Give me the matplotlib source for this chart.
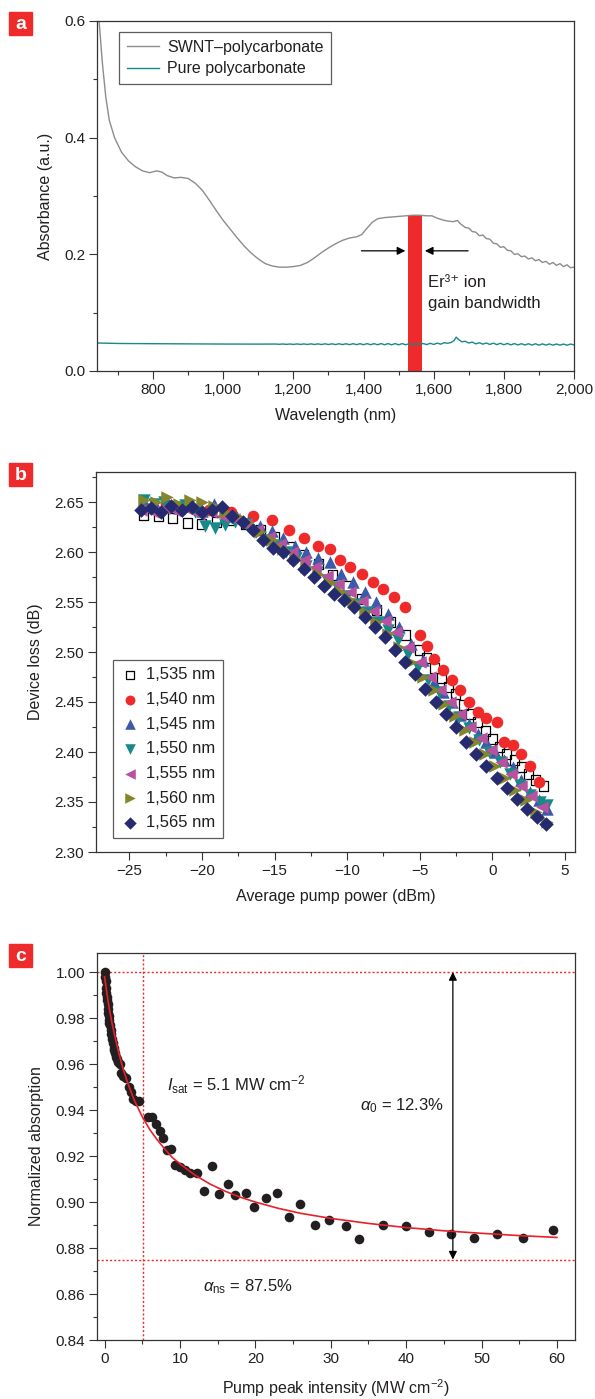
import matplotlib
matplotlib.use('Agg')
import matplotlib.pyplot as plt
from matplotlib.patches import Rectangle
from matplotlib.ticker import MultipleLocator

plt.rcParams['font.family'] = ['Liberation Sans Narrow', 'Liberation Sans', 'DejaVu Sans']
plt.rcParams['mathtext.fontset'] = 'custom'
plt.rcParams['mathtext.rm'] = 'Liberation Sans'
plt.rcParams['mathtext.it'] = 'Liberation Sans:italic'
plt.rcParams['mathtext.bf'] = 'Liberation Sans:bold'

TXT = '#231f20'
RED = '#ee2a2a'

# ---------------- panel a data ----------------
swnt_wl = [640, 646, 655, 665, 675, 690, 710, 730, 750, 770, 790, 810, 825, 840, 860, 880, 900,
           920, 940, 960, 980, 1000, 1020, 1040, 1060, 1080, 1100, 1120, 1140, 1160, 1180, 1200,
           1220, 1240, 1260, 1280, 1300, 1320, 1340, 1360, 1380, 1395, 1410, 1425, 1440, 1460,
           1480, 1500, 1520, 1540, 1560, 1580, 1595, 1610, 1625, 1640, 1655, 1668, 1675, 1690,
           1700, 1710, 1720, 1730, 1740, 1750, 1760, 1770, 1780, 1790, 1800, 1810, 1820, 1830,
           1840, 1850, 1860, 1870, 1880, 1890, 1900, 1910, 1920, 1930, 1940, 1950, 1960, 1970,
           1980, 1990, 2000]
swnt_abs = [0.62, 0.60, 0.53, 0.47, 0.43, 0.40, 0.375, 0.36, 0.35, 0.343, 0.340, 0.343, 0.341,
            0.335, 0.331, 0.332, 0.330, 0.322, 0.310, 0.293, 0.275, 0.258, 0.243, 0.228, 0.214,
            0.202, 0.192, 0.184, 0.180, 0.178, 0.178, 0.179, 0.181, 0.186, 0.194, 0.203, 0.211,
            0.218, 0.224, 0.228, 0.230, 0.234, 0.245, 0.255, 0.261, 0.263, 0.264, 0.265, 0.266,
            0.267, 0.267, 0.266, 0.266, 0.262, 0.259, 0.257, 0.256, 0.258, 0.253, 0.246,
            0.245, 0.239, 0.238, 0.232, 0.233, 0.227, 0.226, 0.219, 0.218, 0.212, 0.213, 0.207,
            0.206, 0.200, 0.201, 0.196, 0.197, 0.192, 0.194, 0.189, 0.191, 0.186, 0.188, 0.183,
            0.186, 0.181, 0.184, 0.179, 0.182, 0.177, 0.178]

pure_wl = [640, 700, 800, 900, 1000, 1100, 1150, 1160, 1170, 1180, 1190, 1200, 1210, 1220, 1230,
           1240, 1250, 1260, 1270, 1280, 1290, 1300, 1310, 1320, 1330, 1340, 1350, 1360, 1370,
           1380, 1390, 1400, 1410, 1420, 1430, 1440, 1450, 1460, 1470, 1480, 1490, 1500, 1510,
           1520, 1530, 1540, 1550, 1560, 1570, 1580, 1590, 1600, 1610, 1620, 1630, 1640, 1650,
           1658, 1664, 1670, 1680, 1690, 1700, 1710, 1720, 1730, 1740, 1750, 1760, 1770, 1780,
           1790, 1800, 1810, 1820, 1830, 1840, 1850, 1860, 1870, 1880, 1890, 1900, 1910, 1920,
           1930, 1940, 1950, 1960, 1970, 1980, 1990, 2000]
pure_abs = [0.0480, 0.0472, 0.0468, 0.0465, 0.0462, 0.0461, 0.0462, 0.0458, 0.0463, 0.0457,
            0.0463, 0.0456, 0.0464, 0.0456, 0.0464, 0.0455, 0.0465, 0.0455, 0.0465, 0.0454,
            0.0466, 0.0454, 0.0466, 0.0453, 0.0467, 0.0453, 0.0467, 0.0452, 0.0468, 0.0452,
            0.0468, 0.0451, 0.0469, 0.0451, 0.0469, 0.0450, 0.0470, 0.0450, 0.0470, 0.0449,
            0.0470, 0.0449, 0.0470, 0.0449, 0.0470, 0.0449, 0.0471, 0.0450, 0.0472, 0.0452,
            0.0475, 0.0455, 0.0478, 0.0460, 0.0485, 0.0475, 0.0490, 0.0520, 0.0580, 0.0545,
            0.0500, 0.0510, 0.0480, 0.0495, 0.0465, 0.0485, 0.0460, 0.0480, 0.0455, 0.0478,
            0.0452, 0.0475, 0.0450, 0.0472, 0.0448, 0.0470, 0.0447, 0.0468, 0.0446, 0.0467,
            0.0445, 0.0466, 0.0444, 0.0465, 0.0444, 0.0464, 0.0443, 0.0463, 0.0443, 0.0462,
            0.0442, 0.0462, 0.0448]

er_band_center = 1547
er_band_width = 40
er_band_top = 0.268

a_xticks = [800, 1000, 1200, 1400, 1600, 1800, 2000]
a_xticklabels = ['800', '1,000', '1,200', '1,400', '1,600', '1,800', '2,000']
a_yticks = [0.0, 0.2, 0.4, 0.6]
a_yticklabels = ['0.0', '0.2', '0.4', '0.6']

# ---------------- panel b data ----------------
b_labels = ['1,535 nm', '1,540 nm', '1,545 nm', '1,550 nm', '1,555 nm', '1,560 nm', '1,565 nm']

x1535 = [-24.0, -23.0, -22.0, -21.0, -20.0, -19.0, -18.0, -17.0, -16.0, -15.0,
         -14.0, -13.0, -12.0, -11.0, -10.0, -9.0, -8.0, -7.0, -6.0, -5.0,
         -4.5, -4.0, -3.5, -3.0, -2.5, -2.0, -1.5, -1.0, -0.5, 0.0,
         0.5, 1.0, 1.5, 2.0, 2.5, 3.0, 3.5]
y1535 = [2.637, 2.636, 2.634, 2.629, 2.628, 2.630, 2.632, 2.628, 2.622, 2.615,
         2.605, 2.597, 2.588, 2.577, 2.566, 2.553, 2.542, 2.530, 2.517, 2.502,
         2.494, 2.484, 2.474, 2.465, 2.458, 2.447, 2.438, 2.430, 2.421, 2.413,
         2.405, 2.398, 2.392, 2.385, 2.378, 2.372, 2.366]

x1540 = [-24.0, -22.5, -21.0, -19.5, -18.0, -16.5, -15.2, -14.0, -13.0, -12.0,
         -11.2, -10.5, -9.8, -9.0, -8.2, -7.5, -6.8, -6.0, -5.0, -4.5,
         -4.0, -3.4, -2.8, -2.2, -1.6, -1.0, -0.4, 0.3, 0.8, 1.4,
         2.0, 2.6, 3.2]
y1540 = [2.645, 2.648, 2.646, 2.642, 2.640, 2.636, 2.632, 2.622, 2.614, 2.606,
         2.603, 2.592, 2.585, 2.578, 2.570, 2.563, 2.555, 2.545, 2.517, 2.506,
         2.493, 2.482, 2.472, 2.462, 2.450, 2.440, 2.434, 2.430, 2.410, 2.407,
         2.398, 2.386, 2.370]

x1545 = [-24.0, -23.2, -22.4, -21.6, -20.8, -20.0, -19.2, -18.4, -17.6, -16.8,
         -16.0, -15.2, -14.4, -13.6, -12.8, -12.0, -11.2, -10.4, -9.6, -8.8,
         -8.0, -7.2, -6.4, -5.6, -4.8, -4.0, -3.4, -2.8, -2.2, -1.6,
         -1.0, -0.4, 0.2, 0.8, 1.4, 2.0, 2.6, 3.2, 3.8]
y1545 = [2.650, 2.646, 2.648, 2.644, 2.646, 2.641, 2.648, 2.636, 2.635, 2.630,
         2.626, 2.621, 2.614, 2.606, 2.600, 2.594, 2.590, 2.578, 2.570, 2.560,
         2.550, 2.538, 2.525, 2.508, 2.492, 2.470, 2.460, 2.450, 2.437, 2.428,
         2.418, 2.410, 2.400, 2.392, 2.385, 2.372, 2.360, 2.352, 2.343]

x1550 = [-24.0, -23.3, -22.6, -21.9, -21.2, -20.5, -19.8, -19.1, -18.4, -17.7,
         -17.0, -16.3, -15.6, -14.9, -14.2, -13.5, -12.8, -12.1, -11.4, -10.7,
         -10.0, -9.3, -8.6, -7.9, -7.2, -6.5, -5.8, -5.1, -4.4, -3.7,
         -3.0, -2.3, -1.6, -0.9, -0.2, 0.5, 1.2, 1.9, 2.6, 3.3, 3.8]
y1550 = [2.652, 2.648, 2.650, 2.645, 2.647, 2.640, 2.626, 2.624, 2.627, 2.630,
         2.628, 2.620, 2.612, 2.607, 2.600, 2.594, 2.586, 2.580, 2.572, 2.565,
         2.556, 2.548, 2.540, 2.530, 2.522, 2.512, 2.498, 2.485, 2.472, 2.460,
         2.446, 2.435, 2.424, 2.412, 2.400, 2.390, 2.378, 2.367, 2.357, 2.350, 2.347]

x1555 = [-24.2, -23.4, -22.6, -21.8, -21.0, -20.2, -19.4, -18.6, -17.8, -17.0,
         -16.2, -15.4, -14.6, -13.8, -13.0, -12.2, -11.4, -10.6, -9.8, -9.0,
         -8.2, -7.4, -6.6, -5.8, -5.0, -4.3, -3.6, -2.9, -2.2, -1.5,
         -0.8, -0.1, 0.6, 1.3, 2.0, 2.7, 3.4]
y1555 = [2.642, 2.640, 2.644, 2.641, 2.643, 2.638, 2.640, 2.636, 2.633, 2.628,
         2.622, 2.615, 2.608, 2.600, 2.592, 2.585, 2.576, 2.568, 2.560, 2.551,
         2.541, 2.531, 2.520, 2.505, 2.490, 2.475, 2.462, 2.450, 2.438, 2.425,
         2.414, 2.402, 2.390, 2.378, 2.366, 2.356, 2.345]

x1560 = [-24.0, -23.2, -22.4, -21.6, -20.8, -20.0, -19.2, -18.4, -17.6, -16.8,
         -16.0, -15.2, -14.4, -13.6, -12.8, -12.0, -11.2, -10.4, -9.6, -8.8,
         -8.0, -7.2, -6.4, -5.6, -4.8, -4.0, -3.3, -2.6, -1.9, -1.2,
         -0.5, 0.2, 0.9, 1.6, 2.3, 3.0, 3.8]
y1560 = [2.652, 2.650, 2.655, 2.648, 2.652, 2.650, 2.646, 2.640, 2.636, 2.630,
         2.620, 2.612, 2.603, 2.594, 2.585, 2.578, 2.569, 2.560, 2.551, 2.540,
         2.530, 2.518, 2.505, 2.490, 2.475, 2.462, 2.448, 2.436, 2.422, 2.410,
         2.398, 2.386, 2.374, 2.362, 2.352, 2.340, 2.330]

x1565 = [-24.2, -23.5, -22.8, -22.1, -21.4, -20.7, -20.0, -19.3, -18.6, -17.9,
         -17.2, -16.5, -15.8, -15.1, -14.4, -13.7, -13.0, -12.3, -11.6, -10.9,
         -10.2, -9.5, -8.8, -8.1, -7.4, -6.7, -6.0, -5.3, -4.6, -3.9,
         -3.2, -2.5, -1.8, -1.1, -0.4, 0.3, 1.0, 1.7, 2.4, 3.1, 3.7]
y1565 = [2.642, 2.644, 2.640, 2.646, 2.642, 2.645, 2.640, 2.642, 2.645, 2.636,
         2.630, 2.622, 2.612, 2.604, 2.600, 2.592, 2.583, 2.575, 2.566, 2.558,
         2.552, 2.545, 2.535, 2.525, 2.515, 2.502, 2.490, 2.478, 2.463, 2.450,
         2.438, 2.425, 2.410, 2.398, 2.386, 2.374, 2.364, 2.353, 2.343, 2.335, 2.328]

b_xticks = [-25, -20, -15, -10, -5, 0, 5]
b_yticks = [2.30, 2.35, 2.40, 2.45, 2.50, 2.55, 2.60, 2.65]

# ---------------- panel c data ----------------
c_int = [0.0, 0.1, 0.15, 0.2, 0.25, 0.3, 0.35, 0.4, 0.45, 0.5, 0.55, 0.6, 0.65, 0.7, 0.8,
         0.9, 1.0, 1.1, 1.2, 1.3, 1.4, 1.5, 1.6, 1.8, 2.0, 2.2, 2.5, 2.8, 3.2, 3.5, 3.8,
         4.2, 4.6, 5.8, 6.3, 6.8, 7.3, 7.8, 8.3, 8.8, 9.4, 10.0, 10.7, 11.4, 12.2, 13.2,
         14.2, 15.2, 16.4, 17.3, 18.7, 19.8, 21.4, 22.9, 24.4, 25.9, 27.9, 29.8, 32.0,
         33.8, 37.0, 40.0, 43.0, 46.0, 49.0, 52.0, 55.5, 59.5]
c_abs = [1.000, 0.998, 0.996, 0.993, 0.991, 0.989, 0.988, 0.986, 0.984, 0.982, 0.981, 0.979,
         0.978, 0.977, 0.975, 0.973, 0.971, 0.969, 0.967, 0.966, 0.965, 0.963, 0.962, 0.961,
         0.960, 0.956, 0.955, 0.954, 0.950, 0.948, 0.945, 0.944, 0.944, 0.937, 0.937, 0.934,
         0.931, 0.928, 0.9226, 0.923, 0.916, 0.9154, 0.914, 0.9127, 0.9125, 0.905, 0.9157,
         0.9033, 0.908, 0.903, 0.904, 0.898, 0.9016, 0.9038, 0.8933, 0.899, 0.890, 0.892,
         0.8897, 0.8838, 0.890, 0.8895, 0.887, 0.886, 0.8845, 0.886, 0.8845, 0.888]

fit_int = [0, 0.25, 0.5, 0.75, 1, 1.5, 2, 2.5, 3, 3.5, 4, 5, 6, 7, 8, 9, 10, 12, 14, 16, 18,
           20, 23, 26, 30, 35, 40, 45, 50, 55, 60]
fit_abs = [0.998, 0.9922, 0.9868, 0.982, 0.9777, 0.9701, 0.9634, 0.9575, 0.9525, 0.948,
           0.9439, 0.9371, 0.9315, 0.927, 0.923, 0.9193, 0.9166, 0.9117, 0.9078, 0.9047,
           0.9021, 0.900, 0.8973, 0.8951, 0.8929, 0.8907, 0.8889, 0.8875, 0.8864, 0.8854,
           0.8846]

i_sat = 5.1
alpha_top = 1.00
alpha_ns = 0.875
arrow_x = 46.2

c_xticks = [0, 10, 20, 30, 40, 50, 60]
c_yticks = [0.84, 0.86, 0.88, 0.90, 0.92, 0.94, 0.96, 0.98, 1.00]

# ---------------- figure ----------------
W, H = 595, 1399
fig = plt.figure(figsize=(W / 100, H / 100), dpi=100)


def px_axes(l, t, r, b):
    return fig.add_axes([l / W, 1 - b / H, (r - l) / W, (b - t) / H])


def style(ax):
    for s in ax.spines.values():
        s.set_color('#333333')
        s.set_linewidth(0.9)
    ax.tick_params(which='major', direction='out', length=5.5, width=0.8, color='#333333',
                   labelsize=11, labelcolor=TXT, pad=3)
    ax.tick_params(which='minor', direction='out', length=3, width=0.8, color='#333333')
    ax.tick_params(top=False, right=False, which='both')


def panel_label(letter, top_px):
    l, s = 9, 23
    fig.patches.append(Rectangle((l / W, 1 - (top_px + s) / H), s / W, s / H,
                                 transform=fig.transFigure, color=RED, zorder=5))
    fig.text((l + s / 2) / W, 1 - (top_px + s / 2 + 1) / H, letter, color='white',
             fontsize=14, fontweight='bold', ha='center', va='center', zorder=6)


# ---- panel a ----
axa = px_axes(97, 21, 574, 371)
style(axa)
axa.bar([er_band_center], [er_band_top], width=er_band_width, color=RED, zorder=1)
axa.plot(swnt_wl, swnt_abs, color='#8c8c8c', lw=1.0, label='SWNT\u2013polycarbonate', zorder=2)
axa.plot(pure_wl, pure_abs, color='#17898a', lw=1.0, label='Pure polycarbonate', zorder=2)
axa.set_xlim(640, 2000)
axa.set_ylim(0, 0.6)
axa.set_xticks(a_xticks)
axa.set_xticklabels(a_xticklabels)
axa.set_yticks(a_yticks)
axa.set_yticklabels(a_yticklabels)
axa.xaxis.set_minor_locator(MultipleLocator(100))
axa.yaxis.set_minor_locator(MultipleLocator(0.1))
axa.set_xlabel('Wavelength (nm)', fontsize=11.5, color=TXT, labelpad=8)
axa.set_ylabel('Absorbance (a.u.)', fontsize=11.5, color=TXT, labelpad=8)
leg = axa.legend(loc='upper left', bbox_to_anchor=(0.046, 0.969), borderaxespad=0,
                 fontsize=11.5, frameon=True, fancybox=False, handlelength=2.0,
                 handletextpad=0.5, borderpad=0.5, labelspacing=0.4)
leg.get_frame().set_edgecolor('#333333')
leg.get_frame().set_linewidth(0.9)
for t in leg.get_texts():
    t.set_color(TXT)
axa.annotate('', xy=(er_band_center - er_band_width / 2, 0.206), xytext=(1386, 0.206),
             arrowprops=dict(arrowstyle='-|>', color='black', lw=0.9, mutation_scale=12))
axa.annotate('', xy=(er_band_center + er_band_width / 2, 0.206), xytext=(1706, 0.206),
             arrowprops=dict(arrowstyle='-|>', color='black', lw=0.9, mutation_scale=12))
axa.text(1583, 0.152, 'Er\u00b3\u207a ion', fontsize=12, color=TXT, ha='left', va='center',
         family=['Liberation Sans', 'DejaVu Sans'])
axa.text(1583, 0.116, 'gain bandwidth', fontsize=12, color=TXT, ha='left', va='center')
panel_label('a', 12)

# ---- panel b ----
axb = px_axes(96, 472, 575, 852)
style(axb)
series = [
    (x1535, y1535, 's', 'none', 'black', 42),
    (x1540, y1540, 'o', RED, RED, 70),
    (x1545, y1545, '^', '#3d5aa8', '#3d5aa8', 80),
    (x1550, y1550, 'v', '#168a88', '#168a88', 80),
    (x1555, y1555, '<', '#b8519f', '#b8519f', 80),
    (x1560, y1560, '>', '#85862c', '#85862c', 80),
    (x1565, y1565, 'D', '#262a6e', '#262a6e', 55),
]
for (xs, ys, m, fc, ec, s), lab in zip(series, b_labels):
    axb.scatter(xs, ys, marker=m, s=s, facecolors=fc, edgecolors=ec,
                linewidths=0.9 if fc == 'none' else 0, label=lab, zorder=3)
axb.set_xlim(-27.3, 5.7)
axb.set_ylim(2.30, 2.68)
axb.set_xticks(b_xticks)
axb.set_yticks(b_yticks)
axb.set_yticklabels(['%.2f' % v for v in b_yticks])
axb.xaxis.set_minor_locator(MultipleLocator(2.5))
axb.yaxis.set_minor_locator(MultipleLocator(0.025))
axb.set_xlabel('Average pump power (dBm)', fontsize=11.5, color=TXT, labelpad=8)
axb.set_ylabel('Device loss (dB)', fontsize=11.5, color=TXT, labelpad=8)
legb = axb.legend(loc='lower left', bbox_to_anchor=(0.035, 0.037), borderaxespad=0,
                  fontsize=12, frameon=True, fancybox=False, handletextpad=0.35,
                  borderpad=0.45, labelspacing=0.58, markerscale=0.85, handlelength=1.2)
legb.get_frame().set_edgecolor('#333333')
legb.get_frame().set_linewidth(0.9)
for t in legb.get_texts():
    t.set_color(TXT)
panel_label('b', 463)

# ---- panel c ----
axc = px_axes(97, 953, 575, 1340)
style(axc)
axc.scatter(c_int, c_abs, s=48, color='#231f20', zorder=3, linewidths=0)
axc.plot(fit_int, fit_abs, color='#e8202a', lw=1.2, zorder=4)
axc.axhline(alpha_top, color=RED, ls=(0, (1.5, 1.5)), lw=1.0, zorder=2)
axc.axhline(alpha_ns, color=RED, ls=(0, (1.5, 1.5)), lw=1.0, zorder=2)
axc.axvline(i_sat, color=RED, ls=(0, (1.5, 1.5)), lw=1.0, zorder=2)
axc.annotate('', xy=(arrow_x, alpha_top), xytext=(arrow_x, alpha_ns),
             arrowprops=dict(arrowstyle='<|-|>', color='black', lw=0.9, mutation_scale=12,
                             shrinkA=0, shrinkB=0))
axc.text(8.3, 0.951, r'$I_{\rm sat}$ = 5.1 MW cm$^{-2}$', fontsize=12, color=TXT,
         ha='left', va='center')
axc.text(45.0, 0.942, r'$\alpha_0$ = 12.3%', fontsize=12, color=TXT, ha='right', va='center')
axc.text(13.0, 0.863, r'$\alpha_{\rm ns}$ = 87.5%', fontsize=12, color=TXT, ha='left',
         va='center')
axc.set_xlim(-1.0, 62.4)
axc.set_ylim(0.84, 1.0083)
axc.set_xticks(c_xticks)
axc.set_yticks(c_yticks)
axc.set_yticklabels(['%.2f' % v for v in c_yticks])
axc.xaxis.set_minor_locator(MultipleLocator(5))
axc.yaxis.set_minor_locator(MultipleLocator(0.01))
axc.set_xlabel('Pump peak intensity (MW cm$^{-2}$)', fontsize=11.5, color=TXT, labelpad=8)
axc.set_ylabel('Normalized absorption', fontsize=11.5, color=TXT, labelpad=8)
panel_label('c', 944)

fig.savefig('out.png', dpi=100)
